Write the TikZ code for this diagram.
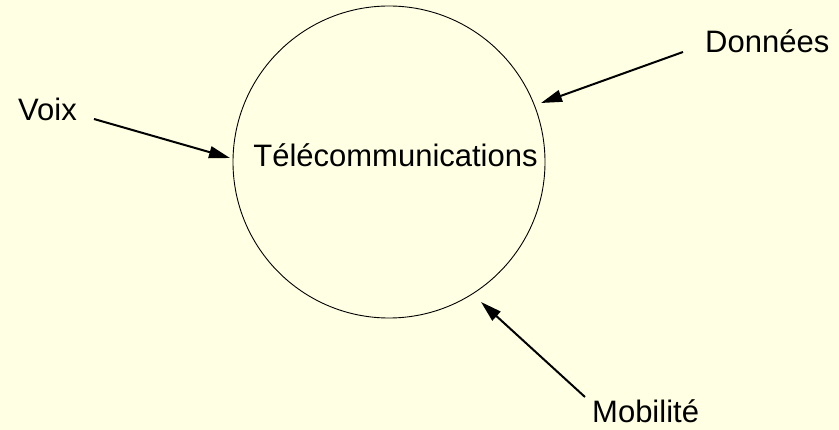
\documentclass[tikz,border=0pt]{standalone}
\usepackage{fontspec}
\setmainfont{Liberation Sans}
\usepackage{xcolor}
\usetikzlibrary{arrows.meta}
\definecolor{paper}{HTML}{FFFFE3}

\begin{document}
\begin{tikzpicture}[x=1pt,y=-1pt,
  lbl/.style={font=\fontsize{31}{36}\selectfont,anchor=base west,inner sep=0pt},
  ar/.style={-{Triangle[length=21pt,width=12pt]},line width=2pt},
]
\fill[paper] (0,0) rectangle (839,430);
\useasboundingbox (0,0) rectangle (839,430);

% central circle
\node[draw,circle,line width=0.9pt,minimum size=312pt,inner sep=0pt] (tel) at (389,162) {};
\node[font=\fontsize{31}{36}\selectfont,anchor=base,inner sep=0pt] (teltxt) at (395.5,167) {Télécommunications};

% inputs
\node[lbl] (voix) at (18,121) {Voix};
\node[lbl] (don) at (705,53) {Données};
\node[lbl] (mob) at (592,423) {Mobilité};

\coordinate (v0) at (94,119);  \coordinate (v1) at (230,158);
\coordinate (d0) at (683,52);  \coordinate (d1) at (541,103);
\coordinate (m0) at (585,397); \coordinate (m1) at (481,302);
\draw[ar] (v0) -- (v1);
\draw[ar] (d0) -- (d1);
\draw[ar] (m0) -- (m1);
\end{tikzpicture}
\end{document}
